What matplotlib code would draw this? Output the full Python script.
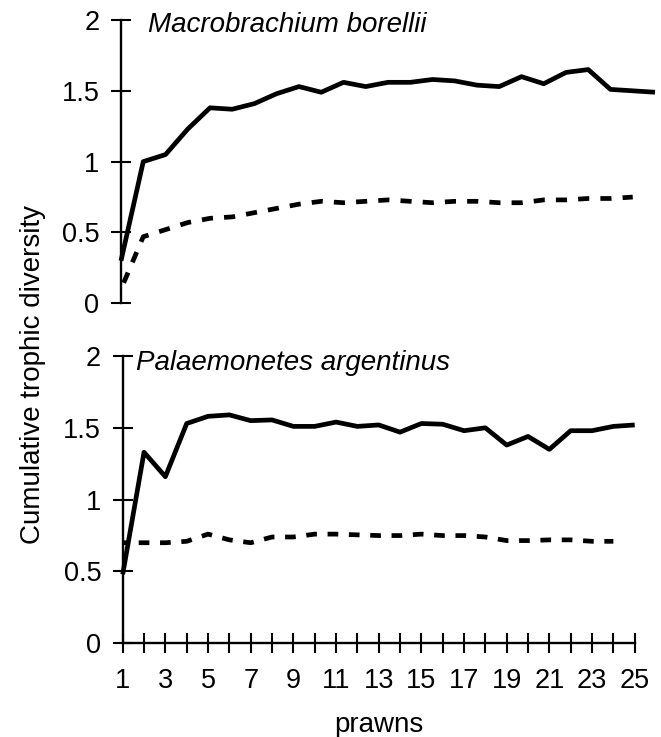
import numpy as np
import matplotlib
matplotlib.use("Agg")
import matplotlib.pyplot as plt

plt.rcParams['font.family'] = ['Liberation Sans', 'DejaVu Sans']
plt.rcParams['lines.scale_dashes'] = False

# Cumulative trophic diversity against number of prawns examined
prawns = list(range(1, 26))
tick_labels = [str(n) if n % 2 == 1 else "" for n in prawns]

borellii_solid = [0.30, 1.00, 1.05, 1.23, 1.38, 1.37, 1.41, 1.48, 1.53, 1.49,
                  1.56, 1.53, 1.56, 1.56, 1.58, 1.57, 1.54, 1.53, 1.60, 1.55,
                  1.63, 1.65, 1.51, 1.50, 1.49]
borellii_dashed = [0.10, 0.47, 0.52, 0.57, 0.60, 0.61, 0.64, 0.67, 0.70, 0.72,
                   0.71, 0.72, 0.73, 0.72, 0.71, 0.72, 0.72, 0.71, 0.71, 0.73,
                   0.73, 0.74, 0.74, 0.75]

argentinus_solid = [0.48, 1.33, 1.16, 1.53, 1.58, 1.59, 1.55, 1.555, 1.51, 1.51,
                    1.54, 1.51, 1.52, 1.47, 1.53, 1.525, 1.48, 1.50, 1.38, 1.44,
                    1.35, 1.48, 1.48, 1.51, 1.52]
argentinus_dashed = [0.70, 0.70, 0.70, 0.71, 0.76, 0.72, 0.70, 0.74, 0.74, 0.76,
                     0.76, 0.755, 0.75, 0.75, 0.76, 0.75, 0.75, 0.74, 0.715, 0.715,
                     0.72, 0.72, 0.71, 0.71]

y_ticks = [0, 0.5, 1, 1.5, 2]
y_tick_labels = ["0", "0.5", "1", "1.5", "2"]

W, H, DPI = 661, 737, 100
fig = plt.figure(figsize=(W / DPI, H / DPI), dpi=DPI)


def rect(x0, y_top, x1, y_bottom):
    return [x0 / W, 1 - y_bottom / H, (x1 - x0) / W, (y_bottom - y_top) / H]


LW = 3.4
TICK_KW = dict(direction='inout', length=14, width=1.5, labelsize=19.5,
               color='black', labelcolor='black')


def style_y(ax):
    ax.set_ylim(0, 2)
    ax.set_yticks(y_ticks)
    ax.set_yticklabels(y_tick_labels)
    ax.tick_params(axis='y', pad=8.5, **TICK_KW)
    ax.spines['left'].set_linewidth(1.7)
    for s in ('top', 'right'):
        ax.spines[s].set_visible(False)
    ax.patch.set_visible(False)


def dashed_line(ax, x, y):
    # dash pattern with one dash per category, dashes centred on the points
    pts = ax.transData.transform(np.column_stack([x[:2], y[:2]]))
    step = ax.transData.transform([[2, 0]])[0, 0] - ax.transData.transform([[1, 0]])[0, 0]
    period = step * 72 / DPI
    on = 0.5 * period
    off = period - on
    seg1 = np.hypot(*(pts[1] - pts[0])) * 72 / DPI
    offset = (on / 2 - seg1) % period
    ax.plot(x, y, color='black', lw=LW, linestyle=(offset, (on, off)),
            dash_capstyle='butt', clip_on=False)


# upper panel
ax1 = fig.add_axes(rect(121, 20, 655, 303.3))
ax1.set_xlim(1, 25)
style_y(ax1)
ax1.spines['bottom'].set_visible(False)
ax1.set_xticks([])
ax1.plot(prawns, borellii_solid, color='black', lw=LW,
         solid_joinstyle='round', solid_capstyle='butt', clip_on=False)
dashed_line(ax1, prawns[:len(borellii_dashed)], borellii_dashed)

# lower panel
ax2 = fig.add_axes(rect(122.7, 356, 634.7, 643.3))
ax2.set_xlim(1, 25)
style_y(ax2)
ax2.spines['bottom'].set_linewidth(1.7)
ax2.set_xticks(prawns)
ax2.set_xticklabels(tick_labels)
ax2.tick_params(axis='x', pad=11, **TICK_KW)
ax2.plot(prawns, argentinus_solid, color='black', lw=LW,
         solid_joinstyle='round', solid_capstyle='butt', clip_on=False)
dashed_line(ax2, prawns[:len(argentinus_dashed)], argentinus_dashed)

# species names
fig.text(148 / W, 1 - 32 / H, "Macrobrachium borellii", fontsize=20,
         style='italic', ha='left', va='baseline')
fig.text(136.5 / W, 1 - 370 / H, "Palaemonetes argentinus", fontsize=20,
         style='italic', ha='left', va='baseline')

# axis titles
fig.text(378.7 / W, 1 - 732 / H, "prawns", fontsize=20, ha='center', va='baseline')
fig.text(33 / W, 1 - 375 / H, "Cumulative trophic diversity", fontsize=20,
         rotation=90, ha='center', va='center')

fig.savefig("out.png", dpi=DPI)
